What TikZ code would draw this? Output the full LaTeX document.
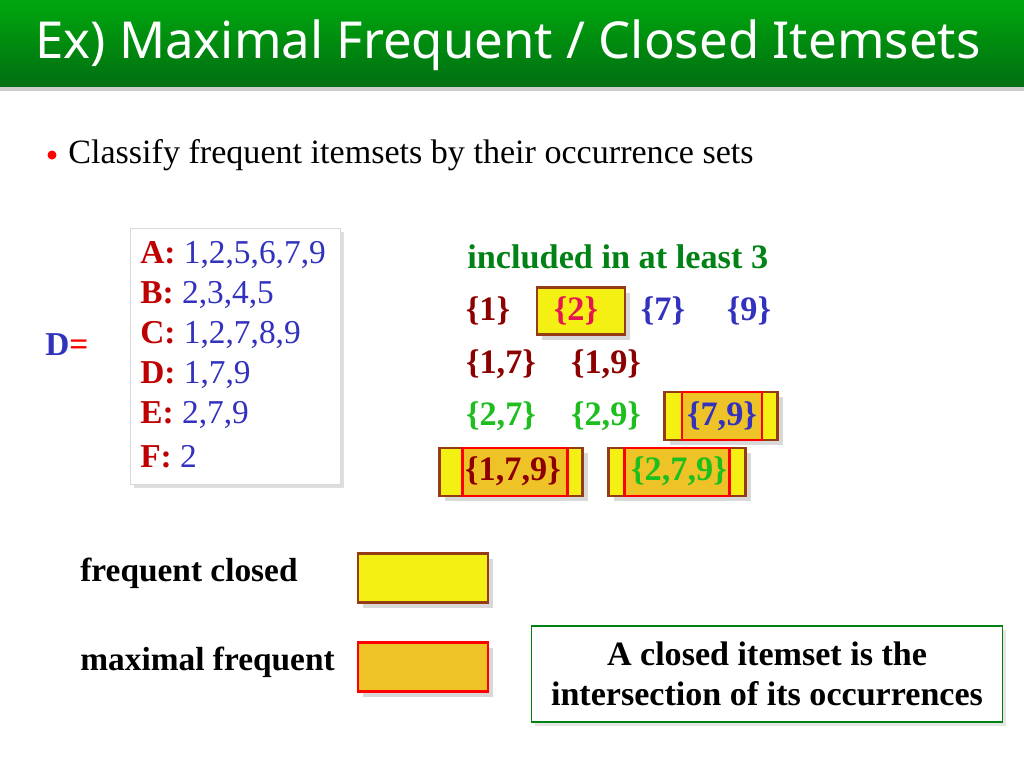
\documentclass[tikz,border=0pt]{standalone}
\usepackage{fontspec}
\setmainfont{Liberation Serif}
\newfontfamily\titlefont{Noto Sans}
\usetikzlibrary{shadows}
\definecolor{titlegreen}{RGB}{0,130,20}
\definecolor{setred}{RGB}{140,0,0}
\definecolor{setblue}{RGB}{50,50,190}
\definecolor{setgreen}{RGB}{30,190,30}
\definecolor{setpink}{RGB}{230,20,80}
\definecolor{labred}{RGB}{190,0,0}
\definecolor{closedfill}{RGB}{245,240,20}
\definecolor{maxfill}{RGB}{238,195,40}
\definecolor{boxbrown}{RGB}{150,60,20}

\tikzset{
  setlabel/.style={font=\bfseries\fontsize{19.5}{22}\selectfont, inner sep=0pt},
  closedbox/.style={draw=boxbrown, fill=closedfill, line width=1.2pt,
    drop shadow={shadow xshift=3pt, shadow yshift=-3pt, fill=gray!60}},
  maxbox/.style={draw=red, fill=maxfill, line width=1.2pt},
  listitem/.style={anchor=west, font=\fontsize{19}{22}\selectfont, inner sep=0pt}
}

\begin{document}
\begin{tikzpicture}[x=0.02cm, y=-0.02cm]
  \fill[white] (0,0) rectangle (1024,768);
  \useasboundingbox (0,0) rectangle (1024,768);
  % title bar
  \fill[gray!40] (0,86) rectangle (1024,91);
  \shade[top color=titlegreen!70!green, bottom color=titlegreen!85!black] (0,0) rectangle (1024,86);
  \node[anchor=west, text=white, inner sep=0pt, font=\titlefont\fontsize{29}{33}\selectfont] (title) at (35,45) {Ex) Maximal Frequent / Closed Itemsets};
  % bullet
  \fill[red] (52,155) circle (4.5);
  \node[anchor=west, inner sep=0pt, font=\fontsize{19.4}{22}\selectfont] (bullet) at (68,155) {Classify frequent itemsets by their occurrence sets};
  % database
  \node[draw=gray!30, fill=white, minimum width=210*0.02cm, minimum height=256*0.02cm,
    drop shadow={shadow xshift=2pt, shadow yshift=-2pt, fill=gray!50}] (dbbox) at (235,356) {};
  \foreach \lab/\occ/\yy in {A/{1,2,5,6,7,9}/255, B/{2,3,4,5}/295, C/{1,2,7,8,9}/335,
                            D/{1,7,9}/375, E/{2,7,9}/415, F/2/457}{
    \node[listitem] (row\lab) at (140,\yy) {\textcolor{labred}{\textbf{\lab:}} \textcolor{setblue}{\occ}};
  }
  \node[anchor=west, inner sep=0pt, font=\bfseries\fontsize{19}{22}\selectfont] (dname) at (45,345)
    {\textcolor{setblue}{D}\textcolor{red}{=}};
  % frequent itemsets
  \node[anchor=west, inner sep=0pt, text=titlegreen, font=\bfseries\fontsize{19.5}{22}\selectfont] (atleast) at (467,257) {included in at least 3};
  \node[closedbox, minimum width=88*0.02cm, minimum height=47*0.02cm] (b2) at (581,311) {};
  \node[closedbox, minimum width=113*0.02cm, minimum height=48*0.02cm] (b79) at (721,416) {};
  \node[maxbox, minimum width=80*0.02cm, minimum height=48*0.02cm] (m79) at (722,416) {};
  \node[closedbox, minimum width=143*0.02cm, minimum height=48*0.02cm] (b179) at (511,472) {};
  \node[maxbox, minimum width=105*0.02cm, minimum height=48*0.02cm] (m179) at (515,472) {};
  \node[closedbox, minimum width=137*0.02cm, minimum height=48*0.02cm] (b279) at (677,472) {};
  \node[maxbox, minimum width=105*0.02cm, minimum height=48*0.02cm] (m279) at (677,472) {};
  \node[setlabel, text=setred] (s1) at (488,311) {\{1\}};
  \node[setlabel, text=setpink] (s2) at (576,311) {\{2\}};
  \node[setlabel, text=setblue] (s7) at (663,311) {\{7\}};
  \node[setlabel, text=setblue] (s9) at (749,311) {\{9\}};
  \node[setlabel, text=setred] (s17) at (501,364) {\{1,7\}};
  \node[setlabel, text=setred] (s19) at (606,364) {\{1,9\}};
  \node[setlabel, text=setgreen] (s27) at (501,416) {\{2,7\}};
  \node[setlabel, text=setgreen] (s29) at (606,416) {\{2,9\}};
  \node[setlabel, text=setblue] (s79) at (722,416) {\{7,9\}};
  \node[setlabel, text=setred] (s179) at (513,471) {\{1,7,9\}};
  \node[setlabel, text=setgreen] (s279) at (679,471) {\{2,7,9\}};
  % legend
  \node[anchor=west, inner sep=0pt, font=\bfseries\fontsize{19}{22}\selectfont] (lclosed) at (80,573) {frequent closed};
  \node[closedbox, minimum width=130*0.02cm, minimum height=49*0.02cm] (kclosed) at (423,578) {};
  \node[anchor=west, inner sep=0pt, font=\bfseries\fontsize{19}{22}\selectfont] (lmax) at (80,662) {maximal frequent};
  \node[maxbox, minimum width=130*0.02cm, minimum height=49*0.02cm,
    drop shadow={shadow xshift=3pt, shadow yshift=-3pt, fill=gray!60}] (kmax) at (423,667) {};
  % note
  \node[draw=titlegreen, line width=1pt, fill=white, minimum width=471*0.02cm, minimum height=96*0.02cm,
    align=center, font=\bfseries\fontsize{19.4}{23}\selectfont,
    drop shadow={shadow xshift=2pt, shadow yshift=-2pt, fill=gray!40}] (note) at (767,674)
    {A closed itemset is the\\intersection of its occurrences};
\end{tikzpicture}
\end{document}
